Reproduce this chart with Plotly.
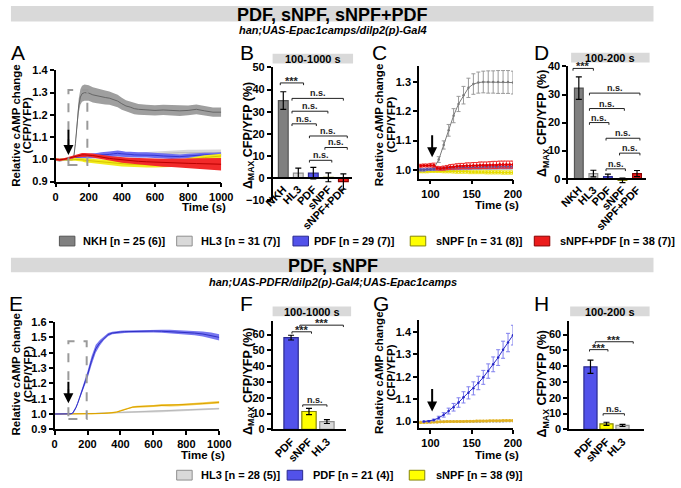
import plotly.graph_objects as go

W, H = 681, 488
FONT = "Liberation Sans"

# ------------------------------------------------------------------ data
# Panel A / E time base (s)
TIME_A = [0, 25, 50, 75, 100, 110, 120, 130, 140, 150, 160, 175, 200, 225, 250, 275, 300, 325,
          350, 375, 400, 425, 450, 475, 500, 550, 600, 650, 700, 750, 800, 850, 900, 950, 1000]

A_NKH = [1.000, 0.995, 1.000, 0.998, 1.000, 1.010, 1.070, 1.160, 1.240, 1.280, 1.295, 1.300, 1.298,
         1.290, 1.285, 1.280, 1.278, 1.275, 1.270, 1.262, 1.250, 1.240, 1.235, 1.228, 1.225, 1.222,
         1.220, 1.222, 1.220, 1.218, 1.220, 1.225, 1.218, 1.212, 1.212]
A_NKH_SEM = [0.006, 0.006, 0.006, 0.006, 0.006, 0.008, 0.015, 0.025, 0.032, 0.035, 0.036, 0.036,
             0.035, 0.034, 0.033, 0.032, 0.031, 0.030, 0.029, 0.028, 0.027, 0.026, 0.025, 0.025,
             0.024, 0.024, 0.023, 0.023, 0.023, 0.023, 0.022, 0.022, 0.022, 0.021, 0.021]
A_HL3 = [1.000, 0.998, 1.000, 0.998, 0.998, 1.000, 1.002, 1.003, 1.004, 1.005, 1.006, 1.008, 1.010,
         1.010, 1.012, 1.013, 1.014, 1.015, 1.016, 1.017, 1.018, 1.019, 1.020, 1.020, 1.021, 1.022,
         1.024, 1.026, 1.028, 1.030, 1.030, 1.030, 1.030, 1.030, 1.030]
A_HL3_SEM = [0.005, 0.005, 0.005, 0.005, 0.005, 0.006, 0.006, 0.006, 0.007, 0.007, 0.007, 0.008,
             0.008, 0.008, 0.009, 0.009, 0.009, 0.010, 0.010, 0.010, 0.010, 0.011, 0.011, 0.011,
             0.011, 0.012, 0.012, 0.012, 0.013, 0.013, 0.013, 0.013, 0.014, 0.014, 0.014]
A_PDF = [1.000, 0.998, 1.000, 0.998, 1.000, 1.005, 1.008, 1.010, 1.012, 1.012, 1.013, 1.015, 1.015,
         1.015, 1.017, 1.020, 1.020, 1.022, 1.025, 1.027, 1.025, 1.022, 1.022, 1.020, 1.020, 1.020,
         1.018, 1.015, 1.012, 1.012, 1.015, 1.018, 1.020, 1.020, 1.022]
A_PDF_SEM = [0.005, 0.005, 0.005, 0.005, 0.005, 0.006, 0.007, 0.008, 0.008, 0.009, 0.009, 0.010,
             0.010, 0.011, 0.011, 0.012, 0.012, 0.013, 0.013, 0.013, 0.013, 0.012, 0.012, 0.012,
             0.012, 0.012, 0.011, 0.011, 0.010, 0.010, 0.010, 0.010, 0.010, 0.010, 0.010]
A_SNPF = [1.000, 0.998, 1.000, 0.998, 0.998, 1.000, 1.000, 1.000, 1.000, 1.000, 0.998, 0.996, 0.994,
          0.992, 0.990, 0.988, 0.986, 0.984, 0.983, 0.982, 0.980, 0.979, 0.978, 0.977, 0.976, 0.975,
          0.975, 0.975, 0.978, 0.985, 0.995, 1.002, 1.008, 1.012, 1.015]
A_SNPF_SEM = [0.005, 0.005, 0.005, 0.005, 0.005, 0.006, 0.006, 0.007, 0.007, 0.008, 0.008, 0.009,
              0.009, 0.010, 0.010, 0.010, 0.011, 0.011, 0.011, 0.012, 0.012, 0.012, 0.012, 0.012,
              0.012, 0.012, 0.012, 0.012, 0.012, 0.011, 0.011, 0.011, 0.010, 0.010, 0.010]
A_SNPF_PDF = [1.000, 0.998, 1.000, 1.005, 1.010, 1.012, 1.014, 1.016, 1.018, 1.019, 1.020, 1.020,
              1.020, 1.017, 1.014, 1.010, 1.007, 1.004, 1.002, 1.000, 0.997, 0.995, 0.993, 0.992,
              0.991, 0.989, 0.987, 0.985, 0.984, 0.984, 0.982, 0.981, 0.980, 0.979, 0.978]
A_SNPF_PDF_SEM = [0.005, 0.005, 0.005, 0.006, 0.006, 0.006, 0.007, 0.007, 0.007, 0.008, 0.008,
                  0.008, 0.008, 0.009, 0.009, 0.010, 0.010, 0.011, 0.011, 0.012, 0.012, 0.013,
                  0.014, 0.014, 0.015, 0.016, 0.017, 0.018, 0.019, 0.020, 0.021, 0.022, 0.024,
                  0.026, 0.028]

E_PDF = [1.000, 1.000, 1.000, 1.000, 1.001, 1.006, 1.020, 1.042, 1.068, 1.098, 1.130, 1.180, 1.255,
         1.350, 1.425, 1.465, 1.495, 1.518, 1.528, 1.533, 1.535, 1.537, 1.538, 1.539, 1.540, 1.541,
         1.541, 1.540, 1.538, 1.535, 1.532, 1.528, 1.522, 1.513, 1.500]
E_PDF_SEM = [0.003, 0.003, 0.003, 0.003, 0.003, 0.004, 0.006, 0.008, 0.010, 0.012, 0.014, 0.018,
             0.024, 0.028, 0.026, 0.018, 0.012, 0.010, 0.008, 0.008, 0.008, 0.008, 0.008, 0.008,
             0.009, 0.009, 0.010, 0.010, 0.011, 0.012, 0.013, 0.014, 0.016, 0.018, 0.020]
E_SNPF = [1.000, 1.000, 1.000, 1.000, 1.000, 1.000, 1.000, 1.000, 1.000, 1.000, 1.000, 1.000, 1.000,
          1.000, 1.002, 1.003, 1.004, 1.006, 1.008, 1.012, 1.020, 1.030, 1.040, 1.045, 1.048, 1.050,
          1.052, 1.058, 1.056, 1.058, 1.062, 1.065, 1.068, 1.072, 1.076]
E_SNPF_SEM = [0.003, 0.003, 0.003, 0.003, 0.003, 0.003, 0.003, 0.003, 0.003, 0.003, 0.003, 0.003,
              0.003, 0.004, 0.004, 0.004, 0.004, 0.005, 0.005, 0.005, 0.006, 0.006, 0.006, 0.006,
              0.006, 0.006, 0.007, 0.007, 0.007, 0.007, 0.007, 0.008, 0.008, 0.008, 0.008]
E_HL3 = [1.000, 1.000, 1.000, 1.000, 1.000, 1.000, 1.001, 1.001, 1.001, 1.002, 1.002, 1.002, 1.003,
         1.003, 1.004, 1.005, 1.006, 1.006, 1.007, 1.008, 1.009, 1.009, 1.010, 1.011, 1.012, 1.013,
         1.015, 1.017, 1.019, 1.021, 1.024, 1.027, 1.030, 1.032, 1.035]
E_HL3_SEM = [0.003, 0.003, 0.003, 0.003, 0.003, 0.003, 0.003, 0.003, 0.003, 0.003, 0.003, 0.003,
             0.003, 0.003, 0.003, 0.004, 0.004, 0.004, 0.004, 0.004, 0.004, 0.004, 0.005, 0.005,
             0.005, 0.005, 0.005, 0.005, 0.005, 0.005, 0.006, 0.006, 0.006, 0.006, 0.006]

# Panel C / G (zoomed 100-200 s)
TIME_ZOOM_BIG = [92, 98, 104, 110, 116, 122, 128, 134, 140, 146, 152, 158, 164, 170, 176, 182, 188, 194, 200]
TIME_ZOOM_SMALL = [88, 92, 96, 100, 104, 108, 112, 116, 120, 124, 128, 132, 136, 140, 144, 148, 152,
                   156, 160, 164, 168, 172, 176, 180, 184, 188, 192, 196, 200]

C_NKH = [0.995, 0.997, 1.005, 1.035, 1.085, 1.135, 1.185, 1.225, 1.255, 1.280, 1.293, 1.298, 1.300,
         1.300, 1.300, 1.300, 1.300, 1.300, 1.298]
C_NKH_SEM = [0.004, 0.005, 0.006, 0.010, 0.014, 0.020, 0.024, 0.026, 0.030, 0.033, 0.035, 0.036,
             0.037, 0.038, 0.038, 0.039, 0.039, 0.039, 0.039]
C_HL3 = [0.995, 0.995, 0.996, 0.997, 0.998, 0.999, 1.000, 1.000, 1.001, 1.001, 1.002, 1.002, 1.003,
         1.003, 1.003, 1.004, 1.004, 1.004, 1.005, 1.005, 1.005, 1.005, 1.006, 1.006, 1.006, 1.006,
         1.006, 1.006, 1.007]
C_HL3_SEM = [0.004, 0.004, 0.004, 0.004, 0.004, 0.004, 0.004, 0.004, 0.004, 0.004, 0.004, 0.004,
             0.004, 0.004, 0.004, 0.004, 0.004, 0.004, 0.004, 0.004, 0.004, 0.004, 0.004, 0.004,
             0.004, 0.004, 0.004, 0.004, 0.004]
C_PDF = [1.000, 1.000, 1.002, 1.002, 1.003, 1.004, 1.004, 1.005, 1.005, 1.006, 1.006, 1.007, 1.007,
         1.008, 1.008, 1.008, 1.009, 1.009, 1.009, 1.010, 1.010, 1.010, 1.010, 1.010, 1.011, 1.011,
         1.011, 1.011, 1.011]
C_PDF_SEM = [0.004, 0.004, 0.004, 0.004, 0.005, 0.005, 0.005, 0.005, 0.005, 0.005, 0.005, 0.005,
             0.006, 0.006, 0.006, 0.006, 0.006, 0.006, 0.006, 0.006, 0.006, 0.006, 0.006, 0.006,
             0.006, 0.006, 0.006, 0.006, 0.006]
C_SNPF = [0.995, 0.995, 0.995, 0.996, 0.996, 0.996, 0.996, 0.995, 0.995, 0.995, 0.995, 0.994, 0.994,
          0.994, 0.994, 0.993, 0.993, 0.993, 0.993, 0.993, 0.992, 0.992, 0.992, 0.992, 0.992, 0.991,
          0.991, 0.991, 0.991]
C_SNPF_SEM = [0.005, 0.005, 0.005, 0.005, 0.005, 0.005, 0.005, 0.005, 0.005, 0.005, 0.006, 0.006,
              0.006, 0.006, 0.006, 0.006, 0.006, 0.006, 0.006, 0.006, 0.006, 0.006, 0.006, 0.006,
              0.006, 0.006, 0.006, 0.006, 0.006]
C_SNPF_PDF = [1.014, 1.015, 1.015, 1.016, 1.016, 1.006, 1.005, 1.006, 1.008, 1.010, 1.011, 1.012,
              1.013, 1.013, 1.014, 1.014, 1.015, 1.015, 1.016, 1.016, 1.016, 1.017, 1.017, 1.017,
              1.018, 1.018, 1.018, 1.018, 1.018]
C_SNPF_PDF_SEM = [0.005, 0.005, 0.005, 0.006, 0.007, 0.006, 0.006, 0.007, 0.007, 0.008, 0.008,
                  0.009, 0.009, 0.009, 0.010, 0.010, 0.010, 0.010, 0.011, 0.011, 0.011, 0.011,
                  0.012, 0.012, 0.012, 0.012, 0.012, 0.012, 0.012]

G_PDF = [1.000, 1.002, 1.007, 1.017, 1.030, 1.047, 1.064, 1.085, 1.108, 1.128, 1.148, 1.172, 1.197,
         1.225, 1.255, 1.285, 1.320, 1.352, 1.385]
G_PDF_SEM = [0.002, 0.003, 0.004, 0.007, 0.010, 0.013, 0.017, 0.021, 0.025, 0.027, 0.029, 0.030,
             0.031, 0.032, 0.033, 0.035, 0.038, 0.041, 0.044]
G_SNPF = [0.996, 0.996, 0.997, 0.997, 0.998, 0.998, 0.999, 0.999, 1.000, 1.000, 1.000, 1.001, 1.001,
          1.001, 1.002, 1.002, 1.002, 1.003, 1.003, 1.003, 1.003, 1.004, 1.004, 1.004, 1.004, 1.005,
          1.005, 1.005, 1.005]
G_SNPF_SEM = [0.003, 0.003, 0.003, 0.003, 0.003, 0.003, 0.003, 0.003, 0.003, 0.003, 0.003, 0.003,
              0.003, 0.003, 0.003, 0.003, 0.003, 0.003, 0.003, 0.003, 0.003, 0.003, 0.003, 0.003,
              0.003, 0.003, 0.003, 0.003, 0.003]
G_HL3 = [0.998, 0.998, 0.998, 0.999, 0.999, 0.999, 0.999, 1.000, 1.000, 1.000, 1.000, 1.000, 1.000,
         1.001, 1.001, 1.001, 1.001, 1.001, 1.001, 1.002, 1.002, 1.002, 1.002, 1.002, 1.002, 1.002,
         1.003, 1.003, 1.003]
G_HL3_SEM = [0.002, 0.002, 0.002, 0.002, 0.002, 0.002, 0.002, 0.002, 0.002, 0.002, 0.002, 0.002,
             0.002, 0.002, 0.002, 0.002, 0.002, 0.002, 0.002, 0.002, 0.002, 0.002, 0.002, 0.002,
             0.002, 0.002, 0.002, 0.002, 0.002]

# Bar panels
B_CATS = ["NKH", "HL3", "PDF", "sNPF", "sNPF+PDF"]
B_VALS = [35.0, 2.2, 2.2, 0.3, -1.6]
B_SEM = [4.0, 2.3, 2.6, 2.0, 3.5]
D_CATS = ["NKH", "HL3", "PDF", "sNPF", "sNPF+PDF"]
D_VALS = [32.3, 1.8, 0.7, -0.6, 1.8]
D_SEM = [4.0, 1.2, 0.9, 0.8, 1.1]
F_CATS = ["PDF", "sNPF", "HL3"]
F_VALS = [58.1, 11.3, 4.9]
F_SEM = [1.5, 2.0, 1.2]
H_CATS = ["PDF", "sNPF", "HL3"]
H_VALS = [39.6, 3.5, 2.5]
H_SEM = [4.2, 1.0, 0.7]

# significance brackets: (x_start, x_end, level, label)
B_BRACKETS = [(-0.2, 1.35, 43.0, "***"), (0.58, 4.0, 36.0, "n.s."), (0.58, 2.97, 30.2, "n.s."),
              (0.58, 2.2, 24.5, "n.s."), (1.74, 4.26, 19.0, "n.s."), (2.77, 4.26, 13.8, "n.s."),
              (1.74, 3.23, 8.0, "n.s.")]
D_BRACKETS = [(-0.4, 1.0, 39.3, "***"), (0.73, 4.2, 30.5, "n.s."), (0.73, 3.13, 25.0, "n.s."),
              (0.73, 2.07, 20.0, "n.s."), (1.87, 4.2, 14.4, "n.s."), (2.8, 4.2, 9.1, "n.s."),
              (1.87, 3.2, 3.5, "n.s.")]
F_BRACKETS = [(0.05, 1.14, 61.8, "***"), (0.49, 2.92, 66.0, "***"), (0.65, 2.0, 15.5, "n.s.")]
H_BRACKETS = [(-0.06, 1.09, 50.5, "***"), (0.3, 2.67, 55.5, "***"), (0.79, 2.12, 9.9, "n.s.")]

LEGEND_1 = ["NKH [n = 25 (6)]", "HL3 [n = 31 (7)]", "PDF [n = 29 (7)]", "sNPF [n = 31 (8)]",
            "sNPF+PDF [n = 38 (7)]"]
LEGEND_2 = ["HL3 [n = 28 (5)]", "PDF [n = 21 (4)]", "sNPF [n = 38 (9)]"]

# ------------------------------------------------------------------ colours
COL = {
    "NKH": ("#9f9f9f", "#666666", "#555555"),
    "HL3": ("#d6d6d6", "#b8b8b8", "#8f8f8f"),
    "PDF": ("#6e6ef2", "#3535cf", "#2a2a90"),
    "sNPF": ("#f3ec1e", "#d6c400", "#85850a"),
    "sNPF+PDF": ("#f22a2a", "#b80000", "#8a0000"),
}
BAR_FILL = {"NKH": "#808080", "HL3": "#d9d9d9", "PDF": "#5252ea", "sNPF": "#ffff00", "sNPF+PDF": "#ec1c1c"}
E_YEL = ("#f5cf52", "#dba200")


def px(x):
    return x / W


def py(y):
    return 1 - y / H


fig = go.Figure()


def band(t, m, s, fill, line, xa, ya, lw=1.0):
    up = [a + b for a, b in zip(m, s)]
    lo = [a - b for a, b in zip(m, s)]
    fig.add_trace(go.Scatter(x=list(t) + list(t)[::-1], y=up + lo[::-1], fill="toself",
                             fillcolor=fill, line=dict(width=0), mode="lines",
                             xaxis=xa, yaxis=ya, hoverinfo="skip"))
    fig.add_trace(go.Scatter(x=t, y=m, mode="lines", line=dict(color=line, width=lw),
                             xaxis=xa, yaxis=ya))


def points(t, m, s, line, err, xa, ya, ms=3):
    fig.add_trace(go.Scatter(x=t, y=m, mode="lines+markers",
                             line=dict(color=line, width=1), marker=dict(color=line, size=ms),
                             error_y=dict(type="data", array=s, color=err, thickness=1, width=2),
                             xaxis=xa, yaxis=ya))


def bars(cats, vals, sems, width, xa, ya):
    xs = list(range(len(cats)))
    fig.add_trace(go.Bar(x=xs, y=vals, width=width,
                         marker=dict(color=[BAR_FILL[c] for c in cats],
                                     line=dict(color=[COL[c][2] for c in cats], width=1.2)),
                         error_y=dict(type="data", array=sems, color="black", thickness=1.2, width=3),
                         xaxis=xa, yaxis=ya))


# ---- Panel A
band(TIME_A, A_NKH, A_NKH_SEM, COL["NKH"][0], COL["NKH"][1], "x", "y")
band(TIME_A, A_HL3, A_HL3_SEM, COL["HL3"][0], COL["HL3"][1], "x", "y")
band(TIME_A, A_PDF, A_PDF_SEM, COL["PDF"][0], COL["PDF"][1], "x", "y")
band(TIME_A, A_SNPF, A_SNPF_SEM, COL["sNPF"][0], COL["sNPF"][1], "x", "y")
band(TIME_A, A_SNPF_PDF, A_SNPF_PDF_SEM, COL["sNPF+PDF"][0], COL["sNPF+PDF"][1], "x", "y")

# ---- Panel B
bars(B_CATS, B_VALS, B_SEM, 0.65, "x2", "y2")

# ---- Panel C
points(TIME_ZOOM_BIG, C_NKH, C_NKH_SEM, "#7a7a7a", "#9a9a9a", "x3", "y3", ms=2.5)
points(TIME_ZOOM_SMALL, C_HL3, C_HL3_SEM, "#b0b0b0", "#c4c4c4", "x3", "y3")
points(TIME_ZOOM_SMALL, C_SNPF, C_SNPF_SEM, "#e6dc00", "#f0e640", "x3", "y3")
points(TIME_ZOOM_SMALL, C_PDF, C_PDF_SEM, "#5a4fa0", "#8a80d0", "x3", "y3")
points(TIME_ZOOM_SMALL, C_SNPF_PDF, C_SNPF_PDF_SEM, "#e00000", "#f03030", "x3", "y3")

# ---- Panel D
bars(D_CATS, D_VALS, D_SEM, 0.6, "x4", "y4")

# ---- Panel E
band(TIME_A, E_HL3, E_HL3_SEM, COL["HL3"][0], COL["HL3"][1], "x5", "y5")
band(TIME_A, E_SNPF, E_SNPF_SEM, E_YEL[0], E_YEL[1], "x5", "y5")
band(TIME_A, E_PDF, E_PDF_SEM, "#7676f0", "#3030c4", "x5", "y5")

# ---- Panel F
bars(F_CATS, F_VALS, F_SEM, 0.8, "x6", "y6")

# ---- Panel G
points(TIME_ZOOM_SMALL, G_HL3, G_HL3_SEM, "#b0b0b0", "#c8c8c8", "x7", "y7")
points(TIME_ZOOM_SMALL, G_SNPF, G_SNPF_SEM, "#e0b020", "#eccb60", "x7", "y7")
points(TIME_ZOOM_BIG, G_PDF, G_PDF_SEM, "#2828c8", "#8080ee", "x7", "y7", ms=2.5)

# ---- Panel H
bars(H_CATS, H_VALS, H_SEM, 0.82, "x8", "y8")

# ------------------------------------------------------------------ axes
TICKFONT = dict(family=FONT, size=11, color="black", weight="bold")
CATFONT = dict(family=FONT, size=11, color="black", weight="bold")
AX = dict(showline=True, linecolor="black", linewidth=1.5, ticks="outside", ticklen=4,
          tickwidth=1.5, tickcolor="black", showgrid=False, zeroline=False, tickfont=TICKFONT,
          fixedrange=True)


def tax(dom, rng, vals, anchor, text=None):
    d = dict(AX, domain=dom, range=rng, tickvals=vals, anchor=anchor)
    if text is not None:
        d["ticktext"] = text
    return d


def cax(dom, rng, cats, pos=None, anchor=None):
    d = dict(AX, domain=dom, range=rng, tickvals=list(range(len(cats))), ticktext=cats,
             tickangle=-45, ticks="", tickfont=CATFONT)
    if pos is not None:
        d["anchor"] = "free"
        d["position"] = pos
    else:
        d["anchor"] = anchor
    return d


def fmt(v):
    return ["%.1f" % a for a in v]


YA = [0.9, 1.0, 1.1, 1.2, 1.3, 1.4]
YE = [0.9, 1.0, 1.1, 1.2, 1.3, 1.4, 1.5, 1.6]
YC = [1.0, 1.1, 1.2, 1.3]
YG = [1.0, 1.1, 1.2, 1.3, 1.4]
XT = [0, 200, 400, 600, 800, 1000]

fig.update_layout(
    width=W, height=H, margin=dict(l=0, r=0, t=0, b=0), showlegend=False,
    paper_bgcolor="white", plot_bgcolor="white",
    xaxis=tax([px(48), px(219)], [0, 1000], XT, "y"),
    yaxis=tax([py(180), py(66)], [0.9, 1.4], YA, "x", fmt(YA)),
    xaxis2=cax([px(272), px(354)], [-0.71, 4.58], B_CATS, pos=py(176.3)),
    yaxis2=tax([py(199), py(63)], [-10, 50], [-10, 0, 10, 20, 30, 40, 50], "x2"),
    xaxis3=tax([px(423), px(520)], [86, 200], [100, 150, 200], "y3"),
    yaxis3=tax([py(177), py(62)], [0.97, 1.353], YC, "x3", fmt(YC)),
    xaxis4=cax([px(577), px(657)], [-0.73, 4.6], D_CATS, pos=py(177)),
    yaxis4=tax([py(182.75), py(62)], [-2, 40], [0, 10, 20, 30, 40], "x4"),
    xaxis5=tax([px(47), px(217)], [0, 1000], XT, "y5"),
    yaxis5=tax([py(434), py(324)], [0.9, 1.6], YE, "x5", fmt(YE)),
    xaxis6=cax([px(272), px(348)], [-1.03, 3.08], F_CATS, anchor="y6"),
    yaxis6=tax([py(434), py(323)], [0, 68.6], [0, 10, 20, 30, 40, 50, 60], "x6"),
    xaxis7=tax([px(423), px(520)], [86, 200], [100, 150, 200], "y7"),
    yaxis7=tax([py(433), py(322)], [0.97, 1.452], YG, "x7", fmt(YG)),
    xaxis8=cax([px(578), px(655)], [-1.33, 3.33], H_CATS, anchor="y8"),
    yaxis8=tax([py(434), py(323)], [0, 68.6], [0, 10, 20, 30, 40, 50, 60], "x8"),
)


# ------------------------------------------------------------------ decorations
def ann(x, y, text, size=12, xanchor="center", yanchor="middle", angle=0, bold=True,
        italic=False, color="black"):
    fig.add_annotation(x=px(x), y=py(y), xref="paper", yref="paper", text=text, showarrow=False,
                       xanchor=xanchor, yanchor=yanchor, textangle=angle,
                       font=dict(family=FONT, size=size, color=color,
                                 weight="bold" if bold else "normal",
                                 style="italic" if italic else "normal"))


def rect(x0, y0, x1, y1, fill, line=None):
    fig.add_shape(type="rect", xref="paper", yref="paper", x0=px(x0), x1=px(x1), y0=py(y1),
                  y1=py(y0), fillcolor=fill, layer="below",
                  line=dict(width=1 if line else 0, color=line or fill))


# banners
rect(2, 0, 665, 16, "#d9d9d9")
ann(334, 9.5, "PDF, sNPF, sNPF+PDF", size=18)
ann(334, 25, "han;UAS-Epac1camps/dilp2(p)-Gal4", size=11, italic=True)
rect(2, 258, 665, 273, "#d9d9d9")
ann(334, 267, "PDF, sNPF", size=18)
ann(334, 283, "han;UAS-PDFR/dilp2(p)-Gal4;UAS-Epac1camps", size=11, italic=True)

# small window banners
for (x0, x1, y0, y1, t) in [(272, 355, 49, 59, "100-1000 s"), (580, 661, 48, 58, "100-200 s"),
                            (272, 353, 308, 318, "100-1000 s"), (579, 661, 308, 318, "100-200 s")]:
    fig.add_shape(type="rect", xref="paper", yref="paper", x0=px(x0), x1=px(x1), y0=py(y1),
                  y1=py(y0), fillcolor="#d9d9d9", line=dict(width=0))
    ann((x0 + x1) / 2, (y0 + y1) / 2 + 0.5, t, size=11)

# panel letters
for (x, y, L) in [(9, 48, "A"), (246, 48, "B"), (382, 48, "C"), (549, 48, "D"),
                  (7, 305, "E"), (245, 305, "F"), (384, 305, "G"), (549, 305, "H")]:
    ann(x, y, L, size=21, bold=False)

# axis titles
for (x1, x2, y) in [(7, 19, 122), (382, 394, 122), (7, 19, 377), (382, 394, 376)]:
    ann(x1, y, "Relative cAMP change", size=11.5, angle=-90)
    ann(x2, y, "(CFP/YFP)", size=11.5, angle=-90)
for (x, y) in [(247, 133), (551, 121), (247, 385), (552, 387)]:
    ann(x, y, "\u0394<sub>MAX</sub> CFP/YFP (%)", size=12.5, angle=-90)
for (x, y) in [(226, 206), (528, 204), (225, 460), (528, 460)]:
    ann(x, y, "Time (s)", size=11.5, xanchor="right")

# dashed zoom boxes
fig.add_shape(type="rect", xref="x", yref="y", x0=78, x1=192, y0=0.975, y1=1.312,
              line=dict(color="#9a9a9a", width=2, dash="dash"))
fig.add_shape(type="rect", xref="x5", yref="y5", x0=84, x1=195, y0=0.968, y1=1.474,
              line=dict(color="#9a9a9a", width=2, dash="dash"))

# stimulus arrows
for (xa, ya, x, y0, y1) in [("x", "y", 78, 1.14, 1.02), ("x3", "y3", 102, 1.123, 1.043),
                            ("x5", "y5", 84, 1.22, 1.07), ("x7", "y7", 102, 1.152, 1.045)]:
    fig.add_annotation(x=x, y=y1, ax=x, ay=y0, xref=xa, yref=ya, axref=xa, ayref=ya, text="",
                       showarrow=True, arrowhead=2, arrowsize=1, arrowwidth=2,
                       arrowcolor="black")


# significance brackets
def brackets(items, xa, ya, d):
    for (x0, x1, lvl, lab) in items:
        fig.add_shape(type="path", xref=xa, yref=ya,
                      path="M %g,%g L %g,%g L %g,%g L %g,%g" % (x0, lvl - d, x0, lvl, x1, lvl, x1, lvl - d),
                      line=dict(color="#222222", width=1))
        star = lab == "***"
        fig.add_annotation(x=(x0 + x1) / 2, y=lvl, xref=xa, yref=ya, text=lab, showarrow=False,
                           yanchor="bottom", borderpad=0, yshift=-5 if star else -1,
                           font=dict(family=FONT, size=11 if star else 9, color="#222222",
                                     weight="bold"))


brackets(B_BRACKETS, "x2", "y2", 1.0)
brackets(D_BRACKETS, "x4", "y4", 0.8)
brackets(F_BRACKETS, "x6", "y6", 1.2)
brackets(H_BRACKETS, "x8", "y8", 1.2)

# legends
leg1_keys = ["NKH", "HL3", "PDF", "sNPF", "sNPF+PDF"]
leg1_sw = [52, 173, 293, 414, 542]
leg1_tx = [74, 196, 313, 439, 566]
for k, sx, tx, lab in zip(leg1_keys, leg1_sw, leg1_tx, LEGEND_1):
    rect(sx, 236, sx + 16, 246, BAR_FILL[k], COL[k][2])
    ann(tx, 241, lab, size=11, xanchor="left")
leg2_keys = ["HL3", "PDF", "sNPF"]
leg2_sw = [173, 287, 413]
leg2_tx = [196, 312, 439]
for k, sx, tx, lab in zip(leg2_keys, leg2_sw, leg2_tx, LEGEND_2):
    rect(sx, 476, sx + 16, 486, BAR_FILL[k], COL[k][2])
    ann(tx, 481, lab, size=11, xanchor="left")

# page styling: remove the browser's default body margin synchronously
POST = ("});"
        "document.documentElement.style.margin='0';document.documentElement.style.padding='0';"
        "document.body.style.margin='0';document.body.style.padding='0';"
        "(function(){")
fig.write_html("out.html", config={"displayModeBar": False}, post_script=POST)
